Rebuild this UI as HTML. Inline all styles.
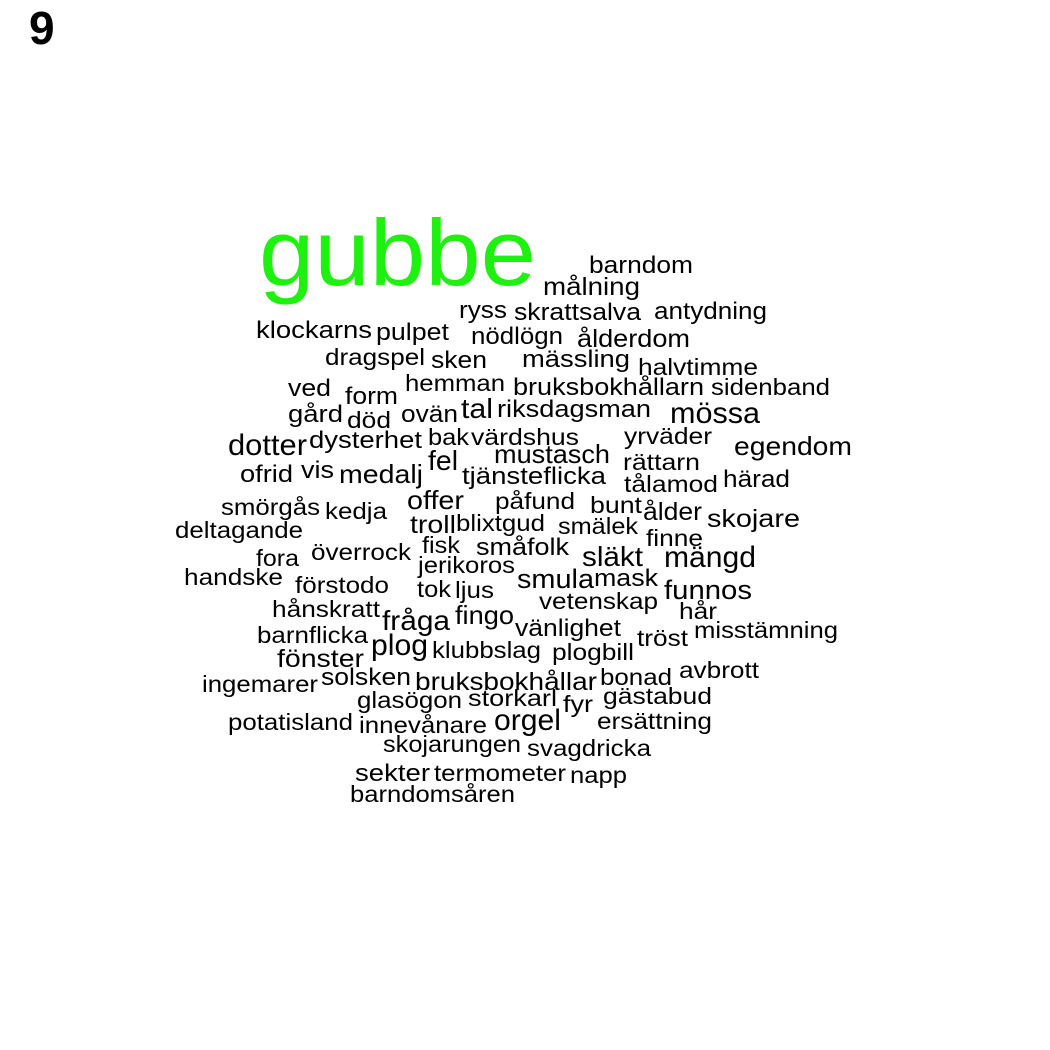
<!DOCTYPE html>
<html><head><meta charset="utf-8"><style>
html,body{margin:0;padding:0;background:#fff;}
svg{display:block;font-family:"Liberation Sans",Arial,sans-serif;}
</style></head><body>
<svg id="cloud" width="1050" height="1050" viewBox="0 0 1050 1050" xmlns="http://www.w3.org/2000/svg">
<rect width="1050" height="1050" fill="#fff"/>
<text x="29" y="44" font-size="46" font-weight="bold" fill="#000">9</text>
</svg>
<script>
const words = ["gubbe","barndom","målning","ryss","skrattsalva","antydning","klockarns","pulpet","nödlögn","ålderdom","dragspel","sken","mässling","halvtimme","ved","form","hemman","bruksbokhållarn","sidenband","gård","död","ovän","tal","riksdagsman","mössa","dotter","dysterhet","bak","värdshus","yrväder","egendom","fel","mustasch","rättarn","ofrid","vis","medalj","tjänsteflicka","tålamod","härad","smörgås","kedja","offer","påfund","bunt","ålder","skojare","deltagande","troll","blixtgud","smälek","finne","fora","överrock","fisk","småfolk","släkt","mängd","handske","förstodo","jerikoros","smula","mask","tok","ljus","funnos","vetenskap","hår","hånskratt","fråga","fingo","vänlighet","tröst","misstämning","barnflicka","plog","klubbslag","plogbill","fönster","avbrott","ingemarer","solsken","bruksbokhållar","bonad","glasögon","storkarl","fyr","gästabud","potatisland","innevånare","orgel","ersättning","skojarungen","svagdricka","sekter","termometer","napp","barndomsåren"];
const leftX = [259,589,543,459,514,654,256,376,471,577,325,431,522,638,288,345,405,513,711,288,347,401,461,497,670,228,309,428,471,624,734,428,494,623,240,301,339,462,624,723,221,325,407,495,590,643,707,175,410,456,558,646,256,311,422,476,582,664,184,295,418,517,594,417,455,664,539,679,272,382,455,515,637,694,257,371,432,552,277,679,202,321,415,600,357,468,563,603,228,359,494,597,383,527,355,434,570,350];
const rightX = [536,693,640,507,641,767,372,449,563,690,425,487,630,758,331,398,505,704,830,343,391,458,493,651,760,307,422,469,579,712,852,458,610,700,293,334,423,606,718,790,320,387,464,575,642,702,800,303,456,545,638,703,299,411,460,569,643,756,283,389,515,594,658,451,494,752,658,717,380,450,514,621,688,838,368,428,541,634,364,759,318,411,597,672,462,557,593,712,353,487,561,712,521,651,430,566,627,515];
const baseY = [285,273,295,318,320,319,338,340,344,347,365,368,367,375,396,404,391,395,395,422,428,422,418,417,423,455,448,445,445,444,455,470,463,470,482,478,483,484,492,487,515,519,509,509,513,520,527,538,533,531,534,546,566,560,553,555,566,567,585,593,573,588,586,597,598,599,609,619,617,630,624,636,646,638,643,655,658,660,667,678,692,685,690,685,708,706,712,704,730,733,730,729,752,756,781,781,783,802];
const fontSize = [94,22,23,22,22,22,22,22,22,23,21,22,22,21,22,22,21,22,21,22,21,22,26,22,27,27,22,21,21,21,24,26,24,21,22,22,24,22,21,22,21,21,24,21,21,23,23,21,23,21,21,21,21,21,21,22,26,27,21,21,21,25,22,21,21,25,21,21,21,26,24,22,21,21,21,27,21,21,23,21,21,22,23,21,21,21,21,21,21,21,27,21,21,21,22,21,21,21];
const svg = document.getElementById('cloud');
const NS = 'http://www.w3.org/2000/svg';
for (let i = 0; i < words.length; i++) {
  const t = document.createElementNS(NS, 'text');
  
  
  t.setAttribute('x', leftX[i]);
  t.setAttribute('y', baseY[i]);
  t.setAttribute('font-size', i === 0 ? fontSize[i] : fontSize[i] * 1.08);
  t.setAttribute('textLength', rightX[i] - leftX[i]);
  t.setAttribute('lengthAdjust', 'spacingAndGlyphs');
  t.setAttribute('fill', i === 0 ? '#1ef00f' : '#000');
  t.textContent = words[i];
  svg.appendChild(t);
}
</script>
</body></html>
